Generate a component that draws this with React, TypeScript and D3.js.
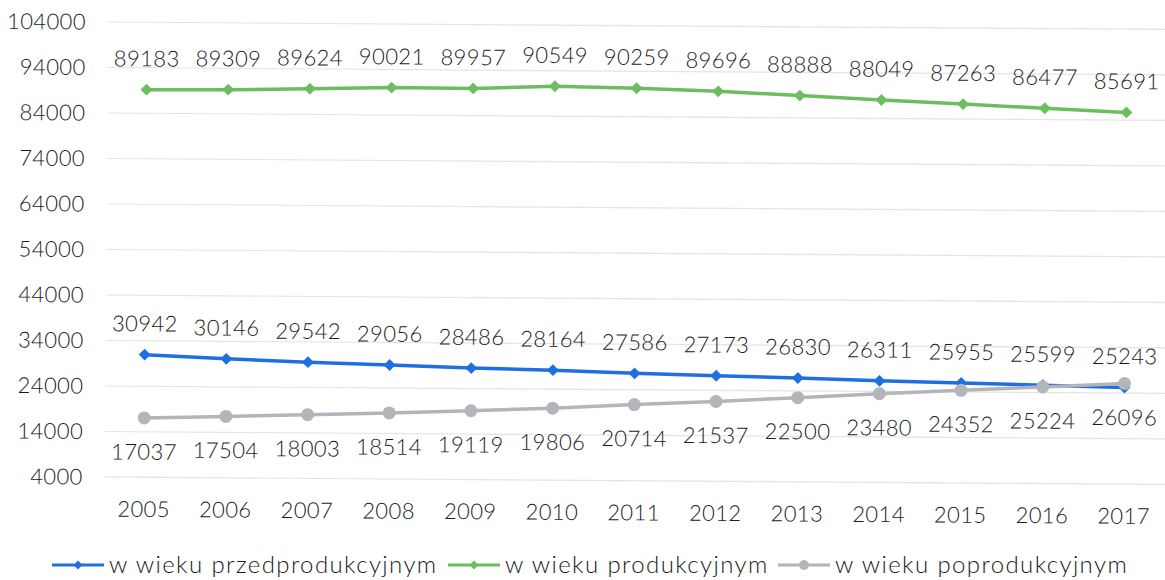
import { useEffect, useRef } from 'react';
import * as d3 from 'd3';

const years = ['2005', '2006', '2007', '2008', '2009', '2010', '2011', '2012', '2013', '2014', '2015', '2016', '2017'];
const przedprodukcyjny = [30942, 30146, 29542, 29056, 28486, 28164, 27586, 27173, 26830, 26311, 25955, 25599, 25243];
const produkcyjny = [89183, 89309, 89624, 90021, 89957, 90549, 90259, 89696, 88888, 88049, 87263, 86477, 85691];
const poprodukcyjny = [17037, 17504, 18003, 18514, 19119, 19806, 20714, 21537, 22500, 23480, 24352, 25224, 26096];
const yTicks = [4000, 14000, 24000, 34000, 44000, 54000, 64000, 74000, 84000, 94000, 104000];

const series = [
  { name: 'w wieku przedprodukcyjnym', values: przedprodukcyjny, color: '#1f6fe3', marker: 'diamond', labelPos: 'above' },
  { name: 'w wieku produkcyjnym', values: produkcyjny, color: '#6cbd5f', marker: 'diamond', labelPos: 'above' },
  { name: 'w wieku poprodukcyjnym', values: poprodukcyjny, color: '#b3b5ba', marker: 'circle', labelPos: 'below' },
];

const W = 1165;
const H = 580;
const FONT = 'Lato, "Open Sans", sans-serif';
const TXT = '#1a1a1a';

export default function App() {
  const svgRef = useRef<SVGSVGElement>(null);

  useEffect(() => {
    if (!svgRef.current) return;
    const svg = d3.select(svgRef.current);
    svg.selectAll('*').remove();

    svg.append('rect').attr('width', W).attr('height', H).attr('fill', '#fff');

    // the scan is slightly tilted
    const g = svg.append('g').attr('transform', 'rotate(0.4, 110, 22)');

    const x = d3.scalePoint<string>().domain(years).range([147, 1127]);
    const y = d3.scaleLinear().domain([4000, 104000]).range([477, 22]);

    // gridlines
    g.append('g')
      .selectAll('line')
      .data(yTicks)
      .join('line')
      .attr('x1', 108)
      .attr('x2', W + 10)
      .attr('y1', d => y(d))
      .attr('y2', d => y(d))
      .attr('stroke', '#e4e4e4')
      .attr('stroke-width', 1.2);

    // y tick labels
    g.append('g')
      .selectAll('text')
      .data(yTicks)
      .join('text')
      .attr('x', 86)
      .attr('y', d => y(d))
      .attr('dy', '0.35em')
      .attr('text-anchor', 'end')
      .attr('font-family', FONT)
      .attr('font-weight', 300)
      .attr('font-size', 22)
      .attr('letter-spacing', 0.4)
      .attr('fill', TXT)
      .text(d => String(d));

    // x labels
    g.append('g')
      .selectAll('text')
      .data(years)
      .join('text')
      .attr('x', d => x(d)!)
      .attr('y', 509)
      .attr('dy', '0.35em')
      .attr('text-anchor', 'middle')
      .attr('font-family', FONT)
      .attr('font-weight', 300)
      .attr('font-size', 22)
      .attr('letter-spacing', 0.4)
      .attr('fill', TXT)
      .text(d => d);

    const line = d3.line<number>()
      .x((_, i) => x(years[i])!)
      .y(d => y(d));

    const diamond = d3.symbol().type(d3.symbolDiamond2).size(90);
    const smallDiamond = d3.symbol().type(d3.symbolDiamond2).size(50);

    // gray drawn last so it sits over blue at the crossing
    const order = [1, 0, 2];
    order.forEach(si => {
      const s = series[si];
      const sg = g.append('g');
      sg.append('path')
        .attr('d', line(s.values)!)
        .attr('fill', 'none')
        .attr('stroke', s.color)
        .attr('stroke-width', 3.5);

      if (s.marker === 'diamond') {
        sg.selectAll('path.m')
          .data(s.values)
          .join('path')
          .attr('class', 'm')
          .attr('d', diamond()!)
          .attr('transform', (d, i) => `translate(${x(years[i])},${y(d)})`)
          .attr('fill', s.color);
      } else {
        sg.selectAll('circle')
          .data(s.values)
          .join('circle')
          .attr('cx', (_, i) => x(years[i])!)
          .attr('cy', d => y(d))
          .attr('r', 6.5)
          .attr('fill', s.color);
      }

      sg.selectAll('text')
        .data(s.values)
        .join('text')
        .attr('x', (_, i) => x(years[i])!)
        .attr('y', d => y(d) + (s.labelPos === 'above' ? -31 : 34))
        .attr('dy', '0.35em')
        .attr('text-anchor', 'middle')
        .attr('font-family', FONT)
        .attr('font-weight', 300)
        .attr('font-size', 22)
        .attr('letter-spacing', 0.4)
        .attr('fill', TXT)
        .text(d => String(d));
    });

    // legend
    const legendItems = [
      { s: series[0], x0: 52 },
      { s: series[1], x0: 448 },
      { s: series[2], x0: 778 },
    ];
    const lg = svg.append('g').attr('transform', 'translate(0,565)');
    legendItems.forEach(({ s, x0 }) => {
      lg.append('line')
        .attr('x1', x0).attr('x2', x0 + 52)
        .attr('y1', 0).attr('y2', 0)
        .attr('stroke', s.color).attr('stroke-width', 3);
      if (s.marker === 'diamond') {
        lg.append('path')
          .attr('d', smallDiamond()!)
          .attr('transform', `translate(${x0 + 26},0)`)
          .attr('fill', s.color);
      } else {
        lg.append('circle').attr('cx', x0 + 26).attr('cy', 0).attr('r', 5).attr('fill', s.color);
      }
      lg.append('text')
        .attr('x', x0 + 57)
        .attr('y', 0)
        .attr('dy', '0.35em')
        .attr('font-family', FONT)
        .attr('font-weight', 300)
        .attr('font-size', 24)
        .attr('letter-spacing', 1.4)
        .attr('fill', TXT)
        .text(s.name);
    });
  }, []);

  return (
    <div style={{ position: 'fixed', left: 0, top: 0, width: W, height: H, background: '#fff' }}>
      <svg ref={svgRef} width={W} height={H} />
    </div>
  );
}
